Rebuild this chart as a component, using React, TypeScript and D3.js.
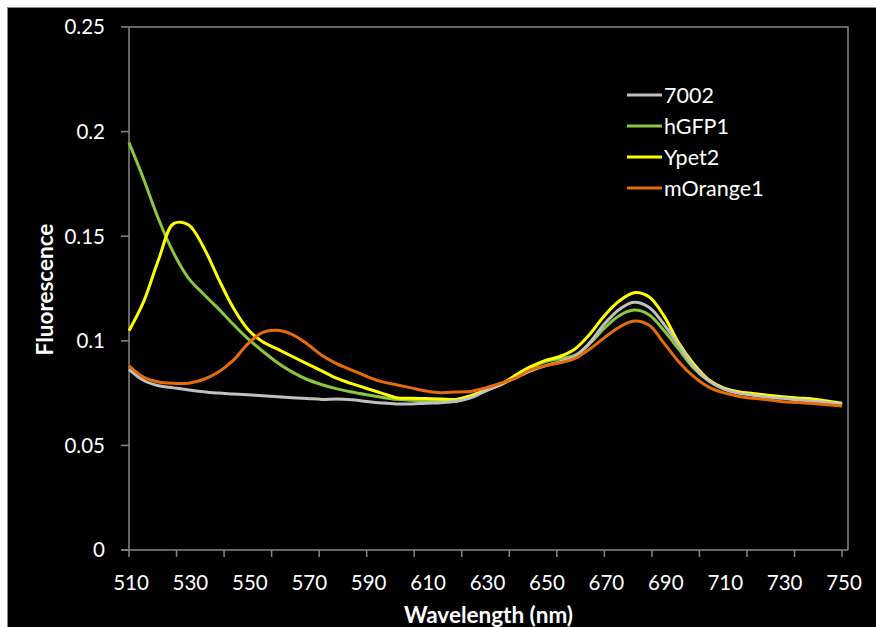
import React, { useEffect, useRef } from "react";
import * as d3 from "d3";

const wavelengths = [510,515,520,525,530,535,540,545,550,555,560,565,570,575,580,585,590,595,600,605,610,615,620,625,630,635,640,645,650,655,660,665,670,675,680,685,690,695,700,705,710,715,720,725,730,735,740,745,750];

const s7002 = [0.0864,0.081,0.0785,0.0775,0.0765,0.0757,0.075,0.0746,0.0742,0.0737,0.0733,0.0728,0.0724,0.072,0.0722,0.0718,0.071,0.0703,0.0698,0.0698,0.0702,0.0704,0.0712,0.0727,0.076,0.079,0.0822,0.0855,0.088,0.09,0.0925,0.099,0.108,0.115,0.1184,0.116,0.108,0.098,0.088,0.081,0.077,0.075,0.074,0.073,0.0725,0.0718,0.0712,0.0705,0.0695];

const hGFP1 = [0.1947,0.177,0.158,0.142,0.13,0.1225,0.1155,0.108,0.101,0.095,0.0895,0.085,0.0815,0.079,0.077,0.0755,0.0742,0.073,0.072,0.0716,0.0713,0.0711,0.071,0.073,0.0762,0.0792,0.083,0.087,0.09,0.0915,0.093,0.0985,0.106,0.112,0.1147,0.1125,0.105,0.096,0.087,0.081,0.0775,0.0755,0.0745,0.0735,0.0728,0.072,0.0715,0.0707,0.0697];

const ypet2 = [0.1048,0.119,0.139,0.156,0.1555,0.145,0.13,0.116,0.1055,0.0995,0.096,0.0925,0.089,0.0855,0.082,0.0795,0.0772,0.075,0.0728,0.0725,0.0724,0.0722,0.072,0.0738,0.0765,0.0789,0.0835,0.0875,0.0905,0.0925,0.096,0.103,0.112,0.119,0.123,0.121,0.112,0.099,0.089,0.0815,0.0775,0.0757,0.0748,0.074,0.0733,0.0727,0.0722,0.0712,0.0702];

const mOrange1 = [0.088,0.0825,0.0803,0.0797,0.0797,0.0815,0.085,0.0905,0.0985,0.104,0.105,0.103,0.0985,0.093,0.089,0.086,0.083,0.0805,0.079,0.0775,0.076,0.0752,0.0755,0.0758,0.0775,0.0797,0.0822,0.086,0.088,0.0895,0.0915,0.096,0.1015,0.1065,0.1095,0.1075,0.099,0.09,0.083,0.078,0.0752,0.0735,0.0725,0.0718,0.0709,0.0705,0.07,0.0694,0.0688];

const seriesNames = ["7002", "hGFP1", "Ypet2", "mOrange1"];
const seriesValues = [s7002, hGFP1, ypet2, mOrange1];
const seriesColors = ["#c0c0c0", "#8cc63f", "#ffff00", "#e46c0a"];

const yTicks = [0, 0.05, 0.1, 0.15, 0.2, 0.25];
const yTickLabels = ["0", "0.05", "0.1", "0.15", "0.2", "0.25"];
const xLabelValues = [510,530,550,570,590,610,630,650,670,690,710,730,750];
const xTickMarks = [510,526,542,558,574,590,606,622,638,654,670,686,702,718,734,750];

const W = 876, H = 627;
const left = 129, right = 848, top = 27, bottom = 550;
const FONT = "Lato, 'Open Sans', sans-serif";

export default function App() {
  const ref = useRef<SVGSVGElement | null>(null);
  useEffect(() => {
    const svg = d3.select(ref.current);
    svg.selectAll("*").remove();
    const x = d3.scaleLinear().domain([510, 752]).range([left, right]);
    const y = d3.scaleLinear().domain([0, 0.25]).range([bottom, top]);

    svg.append("rect").attr("x", 0).attr("y", 0).attr("width", W).attr("height", H).attr("fill", "#fff");
    svg.append("rect").attr("x", 7.5).attr("y", 7.5).attr("width", W + 20).attr("height", H + 20)
      .attr("fill", "#000").attr("stroke", "#8a8a8a").attr("stroke-width", 1);

    svg.append("path").attr("d", `M${left},${top}H${right}V${bottom}`).attr("fill", "none")
      .attr("stroke", "#868686").attr("stroke-width", 1.5);

    const gy = svg.append("g");
    gy.append("line").attr("x1", left).attr("x2", left).attr("y1", top).attr("y2", bottom)
      .attr("stroke", "#868686").attr("stroke-width", 1.5);
    yTicks.forEach((t, i) => {
      gy.append("line").attr("x1", left - 8).attr("x2", left).attr("y1", y(t)).attr("y2", y(t))
        .attr("stroke", "#868686").attr("stroke-width", 1.5);
      gy.append("text").attr("x", 105).attr("y", y(t)).attr("dy", "0.36em").attr("text-anchor", "end")
        .attr("fill", "#fff").attr("font-family", FONT).attr("font-size", 20.5).text(yTickLabels[i]);
    });

    const gx = svg.append("g");
    gx.append("line").attr("x1", left - 8).attr("x2", right).attr("y1", bottom).attr("y2", bottom)
      .attr("stroke", "#868686").attr("stroke-width", 1.5);
    xTickMarks.forEach((t) => {
      gx.append("line").attr("x1", x(t)).attr("x2", x(t)).attr("y1", bottom).attr("y2", bottom + 7)
        .attr("stroke", "#868686").attr("stroke-width", 1.5);
    });
    xLabelValues.forEach((t) => {
      gx.append("text").attr("x", x(t) + 2).attr("y", 589.5).attr("text-anchor", "middle")
        .attr("fill", "#fff").attr("font-family", FONT).attr("font-size", 20.5).text(String(t));
    });

    svg.append("text").attr("x", (left + right) / 2).attr("y", 622.5).attr("text-anchor", "middle")
      .attr("fill", "#fff").attr("font-family", FONT).attr("font-weight", "bold").attr("font-size", 22.5)
      .text("Wavelength (nm)");
    svg.append("text").attr("transform", `translate(53,${(top + bottom) / 2 + 1}) rotate(-90)`)
      .attr("text-anchor", "middle").attr("fill", "#fff").attr("font-family", FONT)
      .attr("font-weight", "bold").attr("font-size", 22.5).text("Fluorescence");

    const line = d3.line<number>()
      .x((_, i) => x(wavelengths[i]))
      .y((d) => y(d))
      .curve(d3.curveCatmullRom.alpha(0.5));

    const drawOrder = [1, 2, 0, 3];
    drawOrder.forEach((k) => {
      svg.append("path").attr("d", line(seriesValues[k]) || "").attr("fill", "none")
        .attr("stroke", seriesColors[k]).attr("stroke-width", 3).attr("stroke-linejoin", "round");
    });

    seriesNames.forEach((name, i) => {
      const ly = 95 + i * 31;
      svg.append("line").attr("x1", 627).attr("x2", 662).attr("y1", ly).attr("y2", ly)
        .attr("stroke", seriesColors[i]).attr("stroke-width", 3);
      svg.append("text").attr("x", 664).attr("y", ly + 7.5).attr("fill", "#fff")
        .attr("font-family", FONT).attr("font-size", 21.5).text(name);
    });
  }, []);

  return (
    <svg ref={ref} width={W} height={H}
      style={{ position: "fixed", left: 0, top: 0, display: "block" }} />
  );
}
